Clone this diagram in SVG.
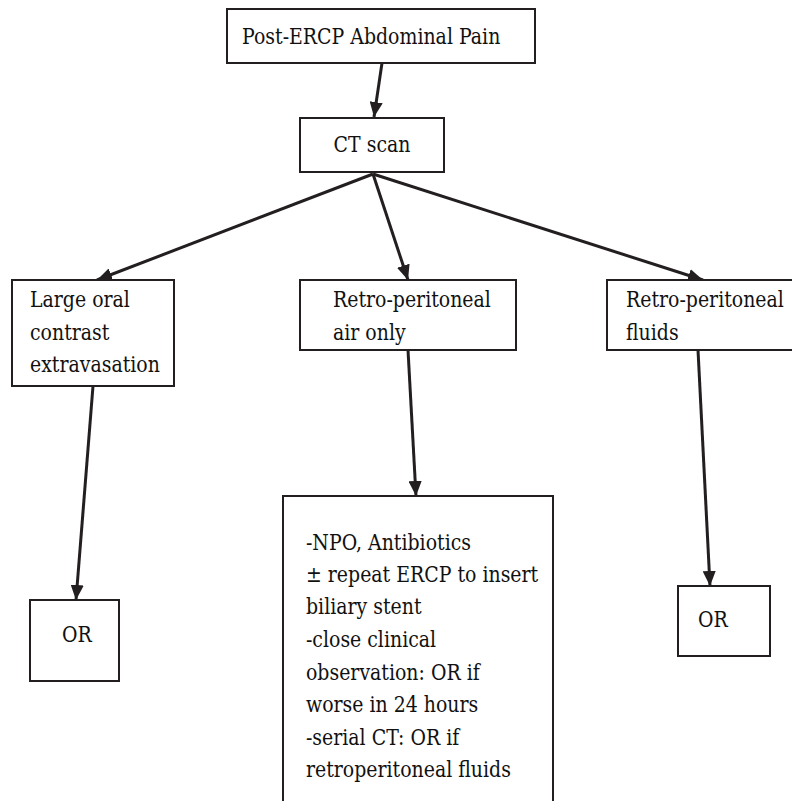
<svg xmlns="http://www.w3.org/2000/svg" width="792" height="801" viewBox="0 0 792 801">
<defs>
<marker id="ah" viewBox="0 0 10 10" refX="10" refY="5" markerWidth="5" markerHeight="4.4" markerUnits="strokeWidth" orient="auto" preserveAspectRatio="none">
<path d="M0,0 L10,5 L0,10 z" fill="#231f20"/>
</marker>
<style>
.box{fill:#fff;stroke:#231f20;stroke-width:2}
.t{font-family:"DejaVu Serif","Liberation Serif",serif;font-size:22px;fill:#111}
.c{fill:none;stroke:#231f20;stroke-width:3;marker-end:url(#ah)}
</style>
</defs>
<rect width="792" height="801" fill="#fff"/>
<g id="connectors">
<line class="c" x1="382" y1="63" x2="374" y2="117"/>
<line class="c" x1="373" y1="174" x2="97" y2="280"/>
<line class="c" x1="373" y1="174" x2="408" y2="280"/>
<line class="c" x1="373" y1="174" x2="703" y2="280"/>
<line class="c" x1="93" y1="386" x2="76" y2="600"/>
<line class="c" x1="408" y1="350" x2="416" y2="496"/>
<line class="c" x1="698" y1="350" x2="710" y2="586"/>
</g>
<g id="n-pain">
<rect class="box" x="227" y="9" width="308" height="54"/>
<text class="t" transform="scale(0.86,1)" x="281.4" y="44">Post-ERCP Abdominal Pain</text>
</g>
<g id="n-ct">
<rect class="box" x="300" y="118" width="144" height="54"/>
<text class="t" transform="scale(0.86,1)" x="432.6" y="152" text-anchor="middle">CT scan</text>
</g>
<g id="n-large">
<rect class="box" x="12" y="280" width="162" height="106"/>
<g class="t" transform="scale(0.86,1)">
<text x="34.9" y="307">Large oral</text>
<text x="34.9" y="340">contrast</text>
<text x="34.9" y="372">extravasation</text>
</g>
</g>
<g id="n-air">
<rect class="box" x="300" y="280" width="216" height="70"/>
<g class="t" transform="scale(0.86,1)">
<text x="387.2" y="307">Retro-peritoneal</text>
<text x="387.2" y="340">air only</text>
</g>
</g>
<g id="n-fluids">
<rect class="box" x="607" y="280" width="200" height="70"/>
<g class="t" transform="scale(0.86,1)">
<text x="727.9" y="307">Retro-peritoneal</text>
<text x="727.9" y="340">fluids</text>
</g>
</g>
<g id="n-or-left">
<rect class="box" x="30" y="600" width="89" height="81"/>
<text class="t" transform="scale(0.86,1)" x="72.1" y="642">OR</text>
</g>
<g id="n-mgmt">
<rect class="box" x="283" y="496" width="270" height="320"/>
<g class="t" transform="scale(0.86,1)">
<text x="355.8" y="550">-NPO, Antibiotics</text>
<text x="355.8" y="582">± repeat ERCP to insert</text>
<text x="355.8" y="614">biliary stent</text>
<text x="355.8" y="647">-close clinical</text>
<text x="355.8" y="680">observation: OR if</text>
<text x="355.8" y="712">worse in 24 hours</text>
<text x="355.8" y="745">-serial CT: OR if</text>
<text x="355.8" y="777">retroperitoneal fluids</text>
</g>
</g>
<g id="n-or-right">
<rect class="box" x="678" y="586" width="92" height="70"/>
<text class="t" transform="scale(0.86,1)" x="811.6" y="627">OR</text>
</g>
</svg>
